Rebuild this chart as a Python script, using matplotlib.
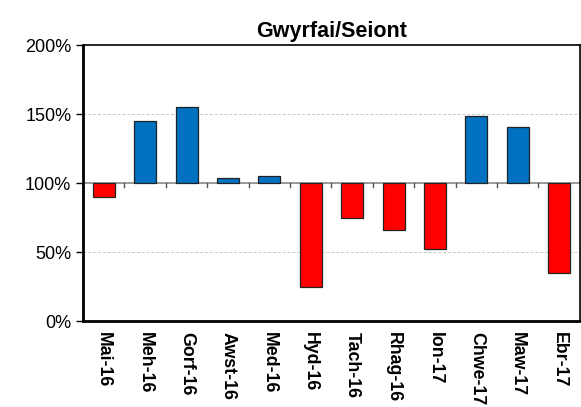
import numpy as np
import matplotlib.pyplot as plt
from matplotlib.ticker import FuncFormatter

plt.rcParams['font.family'] = ['Liberation Sans', 'DejaVu Sans']

# data
months = ['Mai-16', 'Meh-16', 'Gorf-16', 'Awst-16', 'Med-16', 'Hyd-16',
          'Tach-16', 'Rhag-16', 'Ion-17', 'Chwe-17', 'Maw-17', 'Ebr-17']
values = [90, 145, 155, 104, 105, 25, 74.5, 66, 52.5, 149, 141, 35]
yticks = [0, 50, 100, 150, 200]

base = 100
fig = plt.figure(figsize=(5.81, 4.07), dpi=100)
ax = fig.add_axes([0.143, 0.211, 0.855, 0.678])

x = np.arange(len(months))
vals = np.array(values)
colors = ['#0070C0' if v >= base else '#FF0000' for v in vals]
ax.bar(x, vals - base, bottom=base, width=0.53, color=colors,
       edgecolor='#222222', linewidth=0.9, zorder=3)

ax.set_xlim(-0.5, len(months) - 0.5)
ax.set_ylim(0, 200)
ax.set_yticks(yticks)
ax.yaxis.set_major_formatter(FuncFormatter(lambda v, p: '%d%%' % v))
ax.tick_params(axis='y', labelsize=13, length=5, width=1, direction='out')
for yv in [50, 150]:
    ax.axhline(yv, color='#c8c8c8', lw=0.7, ls=(0, (3, 2)), zorder=1)
ax.axhline(base, color='#888888', lw=1.2, zorder=2)

# ticks along the 100% line at category boundaries
for b in np.arange(0.5, len(months) - 0.5, 1.0):
    ax.plot([b, b], [base, base - 3], color='#555555', lw=1, zorder=2)

ax.set_xticks(x)
ax.set_xticklabels(months, rotation=-90, fontweight='bold', fontsize=12.8)
ax.tick_params(axis='x', length=0, pad=8)

for s in ['left', 'bottom']:
    ax.spines[s].set_linewidth(2)
for s in ['top', 'right']:
    ax.spines[s].set_linewidth(1.2)

ax.set_title('Gwyrfai/Seiont', fontsize=15.5, fontweight='bold', pad=6)

fig.savefig('out.png', dpi=100)
